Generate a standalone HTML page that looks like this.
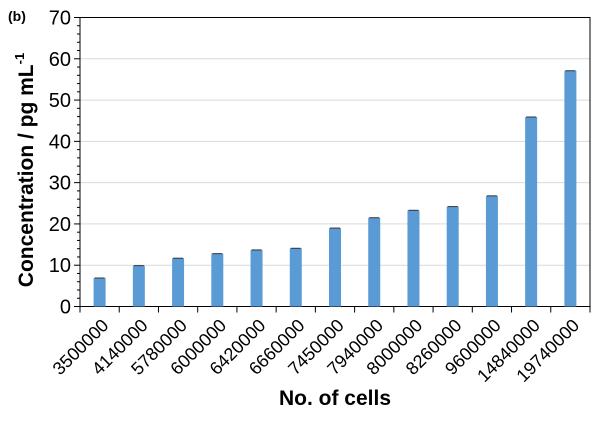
<!DOCTYPE html>
<html><head><meta charset="utf-8"><style>
body{margin:0;background:#fff}
svg text{font-family:"Liberation Sans",Arial,sans-serif}
</style></head><body>
<svg id="c" width="605" height="416" xmlns="http://www.w3.org/2000/svg"></svg>
<script>
const categories=["3500000","4140000","5780000","6000000","6420000","6660000","7450000","7940000","8000000","8260000","9600000","14840000","19740000"];
const values=[6.9,9.9,11.7,12.8,13.7,14.1,19.0,21.5,23.3,24.2,26.8,45.9,57.1];
const yTicks=[0,10,20,30,40,50,60,70];
const svg=document.getElementById('c');
const NS='http://www.w3.org/2000/svg';
const L=80,R=590,T=17.5,B=306.5,yMax=70;
const y=v=>B-(v/yMax)*(B-T);
const bw=(R-L)/categories.length;
const x=i=>L+bw*(i+0.5);
function mk(t,a,p){const e=document.createElementNS(NS,t);for(const k in a)e.setAttribute(k,a[k]);(p||svg).appendChild(e);return e;}
yTicks.forEach(v=>{if(v>0&&v<yMax){const g=mk('line',{x1:L,x2:R,y1:y(v),y2:y(v),stroke:'#d9d9d9','stroke-width':1});

}});
const fr=mk('rect',{x:L,y:T,width:R-L,height:B-T,fill:'none',stroke:'#000','stroke-width':1});


for(let v=0;v<=yMax;v+=2){const t=mk('line',{x1:L-(v%10===0?6:3),x2:L,y1:y(v),y2:y(v),stroke:'#000'});

}
yTicks.forEach(v=>{const t=mk('text',{x:L-9,y:y(v)+7,'text-anchor':'end','font-size':20,fill:'#000'});t.textContent=v;

});
values.forEach((v,i)=>{const b=mk('rect',{x:x(i)-6,y:y(v),width:12,height:B-y(v),fill:'#5b9bd5'});


const e=mk('line',{x1:x(i)-5,x2:x(i)+5,y1:y(v),y2:y(v),stroke:'#333','stroke-width':1});

});
for(let i=0;i<=categories.length;i++){const t=mk('line',{x1:L+bw*i,x2:L+bw*i,y1:B,y2:B+6,stroke:'#000'});

}
categories.forEach((c,i)=>{const px=x(i)+10,py=B+20;const t=mk('text',{x:px,y:py,'text-anchor':'end','font-size':18,transform:`rotate(-45 ${px} ${py})`});t.textContent=c;

});
</script>
<svg style="position:absolute;left:0;top:0" width="605" height="416" xmlns="http://www.w3.org/2000/svg">
<text x="8" y="21" font-size="14" font-weight="bold" font-family="Liberation Sans,sans-serif">(b)</text>
<text x="33" y="170" font-size="21" font-weight="bold" text-anchor="middle" transform="rotate(-90 33 170)" font-family="Liberation Sans,sans-serif">Concentration / pg mL<tspan font-size="13" dy="-9">-1</tspan></text>
<text x="335" y="405" font-size="21" font-weight="bold" text-anchor="middle" font-family="Liberation Sans,sans-serif">No. of cells</text>
</svg>
</body></html>
